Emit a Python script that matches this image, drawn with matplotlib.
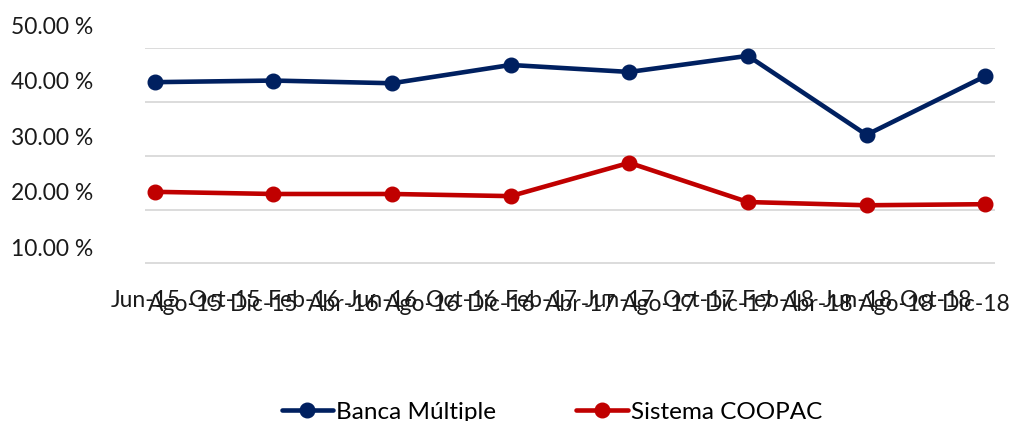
import matplotlib
matplotlib.use("Agg")
import matplotlib.pyplot as plt
import matplotlib.transforms as mtransforms

# ---- data ----
months = ["Jun-15", "Ago-15", "Oct-15", "Dic-15", "Feb-16", "Abr-16", "Jun-16",
          "Ago-16", "Oct-16", "Dic-16", "Feb-17", "Abr-17", "Jun-17", "Ago-17",
          "Oct-17", "Dic-17", "Feb-18", "Abr-18", "Jun-18", "Ago-18", "Oct-18",
          "Dic-18"]
periods = ["Jun-15", "Dic-15", "Jun-16", "Dic-16", "Jun-17", "Dic-17", "Jun-18", "Dic-18"]
banca_multiple = [43.7, 44.0, 43.5, 46.9, 45.6, 48.6, 33.9, 44.8]
sistema_coopac = [23.3, 22.9, 22.9, 22.5, 28.7, 21.4, 20.8, 21.0]
y_ticks = [10, 20, 30, 40, 50]
y_tick_labels = ["10.00 %", "20.00 %", "30.00 %", "40.00 %", "50.00 %"]

# month index of each label / data point (bimonthly labels)
label_pos = [2 * i for i in range(len(months))]
period_pos = [label_pos[months.index(p)] for p in periods]

plt.rcParams['font.family'] = ['Lato', 'DejaVu Sans']
FS = 16.5

W, H = 1011, 421
fig = plt.figure(figsize=(W / 100, H / 100), dpi=100)
ax = fig.add_axes([145 / W, 1 - 290.2 / H, (995 - 145) / W, (290.2 - 48.3) / H])

blue = "#002060"
red = "#C00000"
ax.plot(period_pos, banca_multiple, color=blue, lw=3.3, marker='o', ms=10.5,
        label="Banca Múltiple", solid_capstyle='round', zorder=3)
ax.plot(period_pos, sistema_coopac, color=red, lw=3.3, marker='o', ms=10.5,
        label="Sistema COOPAC", solid_capstyle='round', zorder=3)

ax.set_xlim(-0.5, 42.5)
ax.set_ylim(5, 50)
ax.set_yticks(y_ticks)
ax.set_yticklabels(y_tick_labels, fontsize=FS, color="#1a1a1a")
ax.set_xticks(label_pos)
ax.set_xticklabels(months, fontsize=FS, color="#1a1a1a")
ax.grid(axis='y', color="#d9d9d9", lw=1.3)
ax.set_axisbelow(True)
for s in ax.spines.values():
    s.set_visible(False)
ax.tick_params(axis='both', length=0)
ax.tick_params(axis='y', pad=52 / 1.389)
ax.tick_params(axis='x', pad=0)

# y labels sit higher than their gridlines
for v, lbl in zip(y_ticks, ax.get_yticklabels()):
    dy = (16.3 + (v - 10) * 0.175) / 100
    lbl.set_transform(lbl.get_transform() + mtransforms.ScaledTranslation(0, dy, fig.dpi_scale_trans))

# x labels: shift left and alternate rows slightly
for i, lbl in enumerate(ax.get_xticklabels()):
    dy = -4 / 100 if i % 2 else 0
    lbl.set_transform(lbl.get_transform() + mtransforms.ScaledTranslation(-9 / 100, dy, fig.dpi_scale_trans))

fig.legend(loc='center', bbox_to_anchor=(552 / W, 9 / H), ncol=2, frameon=False,
           fontsize=17.5, handlelength=2.1, handletextpad=0.15, columnspacing=3.3)

fig.savefig("out.png", dpi=100)
